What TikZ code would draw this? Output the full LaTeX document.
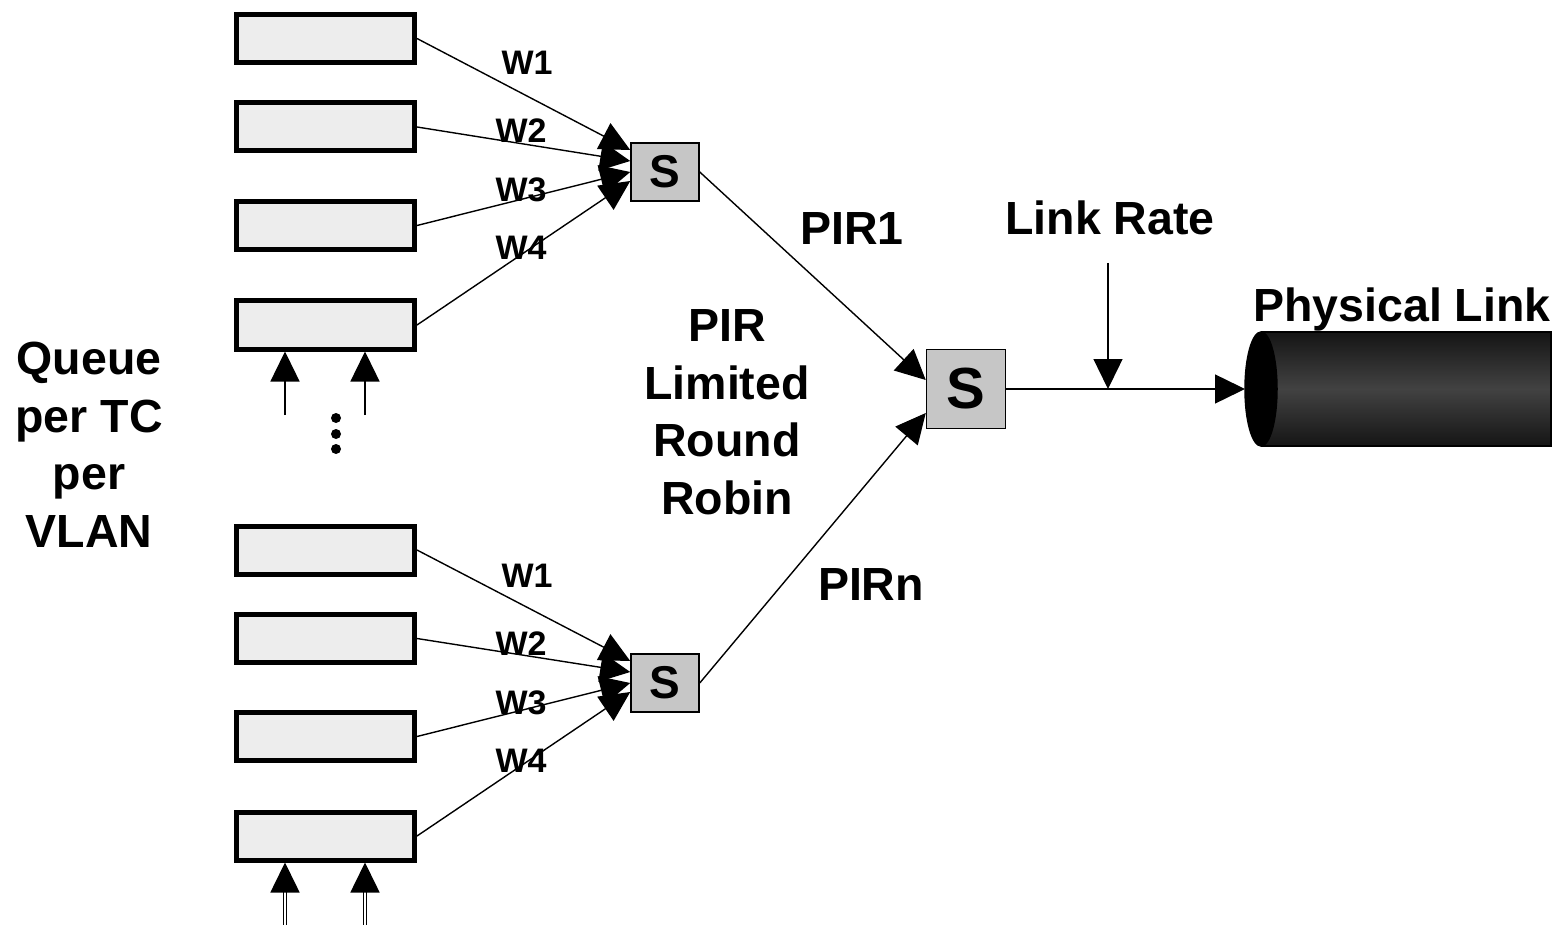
\documentclass[tikz,border=0pt]{standalone}
\usepackage{fontspec}
\setmainfont{Liberation Sans}
\usetikzlibrary{arrows.meta,positioning}
\definecolor{queuefill}{HTML}{EDEDED}
\definecolor{schedfill}{HTML}{C6C6C6}
\definecolor{linkdark}{HTML}{151515}
\definecolor{linkmid}{HTML}{424242}

\begin{document}
\begin{tikzpicture}[x=1pt, y=-1pt,
    queue/.style={draw, line width=5pt, fill=queuefill, minimum width=178pt,
      minimum height=48pt, inner sep=0pt},
    sched/.style={draw, line width=1.5pt, fill=schedfill, minimum width=68pt,
      minimum height=58pt, inner sep=0pt, font=\fontsize{46}{46}\selectfont\bfseries},
    bigsched/.style={sched, minimum width=79pt, minimum height=79pt,
      font=\fontsize{58}{58}\selectfont\bfseries},
    lbl/.style={font=\fontsize{46.5}{57.5}\selectfont\bfseries, align=center, inner sep=0pt},
    wlbl/.style={font=\fontsize{34}{34}\selectfont\bfseries, inner sep=0pt, anchor=base},
    arr/.style={-{Triangle[length=30pt, width=29pt]}, line width=1.4pt},
    feed/.style={arr, double, line width=1.6pt, double distance=1.6pt},
  ]
  \useasboundingbox (0,0) rectangle (1566,925);
  % queues, first VLAN
  \node[queue] (q1) at (325.5,38.5) {};
  \node[queue] (q2) at (325.5,127) {};
  \node[queue] (q3) at (325.5,225.5) {};
  \node[queue] (q4) at (325.5,325) {};
  % queues, last VLAN
  \node[queue] (q5) at (325.5,550) {};
  \node[queue] (q6) at (325.5,638.5) {};
  \node[queue] (q7) at (325.5,736.5) {};
  \node[queue] (q8) at (325.5,836) {};
  % schedulers
  \node[sched] (sch1) at (665,172) {S};
  \node[sched] (schn) at (665,683) {S};
  \node[bigsched] (root) at (966,389) {S};
  % weighted inputs
  \draw[arr] (q1.east) -- ([yshift=22pt]sch1.west);
  \draw[arr] (q2.east) -- ([yshift=11pt]sch1.west);
  \draw[arr] (q3.east) -- (sch1.west);
  \draw[arr] (q4.east) -- ([yshift=-9pt]sch1.west);
  \draw[arr] (q5.east) -- ([yshift=22pt]schn.west);
  \draw[arr] (q6.east) -- ([yshift=11pt]schn.west);
  \draw[arr] (q7.east) -- (schn.west);
  \draw[arr] (q8.east) -- ([yshift=-9pt]schn.west);
  \node[wlbl] (w1) at (527,75) {W1};
  \node[wlbl] (w2) at (521,143) {W2};
  \node[wlbl] (w3) at (521,202) {W3};
  \node[wlbl] (w4) at (521,260) {W4};
  \node[wlbl] (w5) at (527,587) {W1};
  \node[wlbl] (w6) at (521,655) {W2};
  \node[wlbl] (w7) at (521,714) {W3};
  \node[wlbl] (w8) at (521,772) {W4};
  % arrivals
  \coordinate (in1) at (285,415);
  \coordinate (in2) at (365,415);
  \coordinate (in3) at (285,925);
  \coordinate (in4) at (365,925);
  \draw[arr] (in1) -- (in1 |- q4.south);
  \draw[arr] (in2) -- (in2 |- q4.south);
  \draw[feed] (in3) -- (in3 |- q8.south);
  \draw[feed] (in4) -- (in4 |- q8.south);
  \foreach \y in {418,434,449}
    \fill (336,\y) circle [radius=5];
  % PIR limited stage
  \draw[arr] (sch1.east) -- ([yshift=9pt]root.west);
  \draw[arr] (schn.east) -- ([yshift=-24pt]root.west);
  \node[lbl, anchor=base] (pir1) at (852,245) {PIR1};
  \node[lbl, anchor=base] (pirn) at (871,600) {PIRn};
  \node[lbl] (pirlbl) at (727,412) {PIR\\Limited\\Round\\Robin};
  \node[lbl] (queuelbl) at (89,445) {Queue\\per TC\\per\\VLAN};
  % physical link
  \shade[top color=linkdark, bottom color=linkdark, middle color=linkmid]
    (1261,332) rectangle (1551,446);
  \draw[line width=2pt] (1261,332) -- (1551,332) -- (1551,446) -- (1261,446);
  \draw[fill=black, line width=1.5pt] (1261,389) ellipse [x radius=16, y radius=57];
  \coordinate (linkin) at (1245,389);
  \draw[arr] (root.east) -- (linkin);
  \node[lbl, anchor=base] (rate) at (1110,235) {Link Rate};
  \coordinate (ratetop) at (1108,263);
  \draw[arr] (ratetop) -- (ratetop |- root.east);
  \node[lbl, anchor=base] (linklbl) at (1402,322) {Physical Link};
\end{tikzpicture}
\end{document}
